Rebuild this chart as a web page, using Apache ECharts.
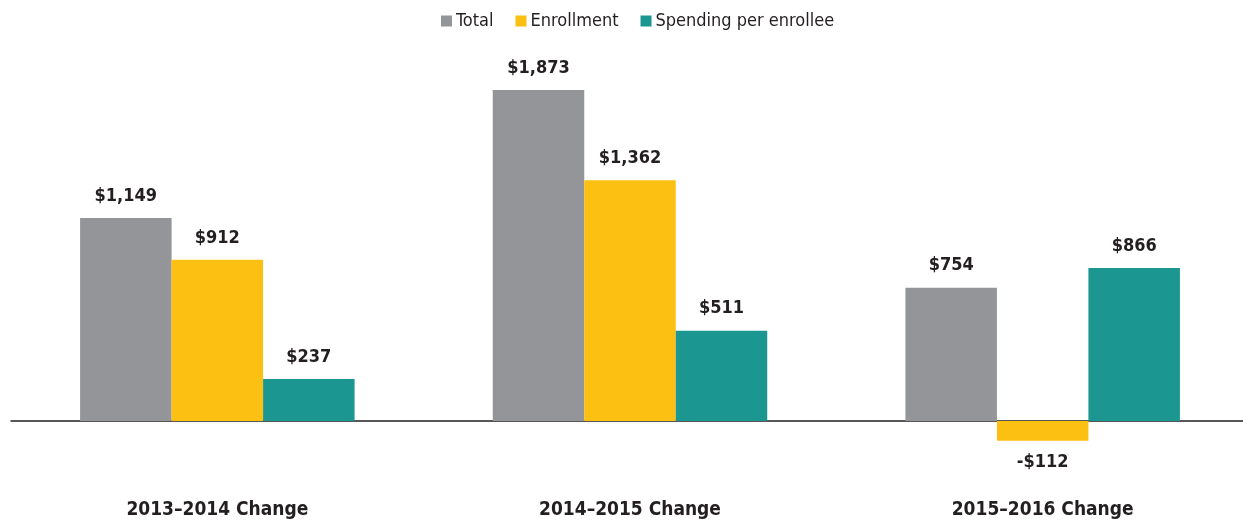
<!DOCTYPE html>
<html>
<head>
<meta charset="utf-8">
<script src="https://cdn.jsdelivr.net/npm/echarts@6/dist/echarts.min.js"></script>
<style>
html,body{margin:0;padding:0;background:#fff;}
#main{width:1243px;height:520px;}
</style>
</head>
<body>
<div id="main"></div>
<script>
const categories = ["2013\u20132014 Change", "2014\u20132015 Change", "2015\u20132016 Change"];
const totalValues = [1149, 1873, 754];
const enrollmentValues = [912, 1362, -112];
const spendingValues = [237, 511, 866];
const seriesNames = ["Total", "Enrollment", "Spending per enrollee"];
const colors = ["#939598", "#FCC012", "#1B9690"];

const FONT = '"DejaVu Sans Condensed", "Liberation Sans Narrow", sans-serif';

function fmt(v) {
  const s = '$' + Math.abs(v).toLocaleString('en-US');
  return v < 0 ? '-' + s : s;
}

const chart = echarts.init(document.getElementById('main'), null, {renderer: 'canvas'});
const labelCfg = {
  show: true,
  position: 'top',
  distance: 13,
  fontFamily: FONT,
  fontSize: 18,
  fontWeight: 'bold',
  color: '#231F20',
  formatter: p => fmt(p.value)
};
function mk(name, data, color) {
  return {
    name: name,
    type: 'bar',
    data: data.map(v => ({
      value: v,
      label: v < 0 ? {position: 'bottom'} : {}
    })),
    barWidth: 91.5,
    barGap: '0%',
    itemStyle: {color: color},
    label: labelCfg,
    animation: false
  };
}

chart.setOption({
  animation: false,
  legend: {
    top: 7,
    left: 436,
    itemWidth: 11,
    itemHeight: 11,
    itemGap: 22,
    icon: 'rect',
    textStyle: {fontFamily: FONT, fontSize: 18, color: '#231F20', padding: [0, 0, 0, -1]},
    data: seriesNames
  },
  grid: {left: 11, right: -6, top: 67.6, bottom: 63.7, containLabel: false, outerBoundsMode: 'none'},
  xAxis: {
    type: 'category',
    data: categories,
    axisLine: {onZero: true, lineStyle: {color: '#231F20', width: 1.5}},
    axisTick: {show: false},
    axisLabel: {
      margin: 44,
      fontFamily: FONT,
      fontSize: 19,
      fontWeight: 'bold',
      color: '#231F20'
    },
    splitLine: {show: false}
  },
  yAxis: {
    type: 'value',
    min: -200,
    max: 2000,
    show: false,
    splitLine: {show: false}
  },
  series: [
    mk(seriesNames[0], totalValues, colors[0]),
    mk(seriesNames[1], enrollmentValues, colors[1]),
    mk(seriesNames[2], spendingValues, colors[2])
  ]
});
</script>
</body>
</html>
